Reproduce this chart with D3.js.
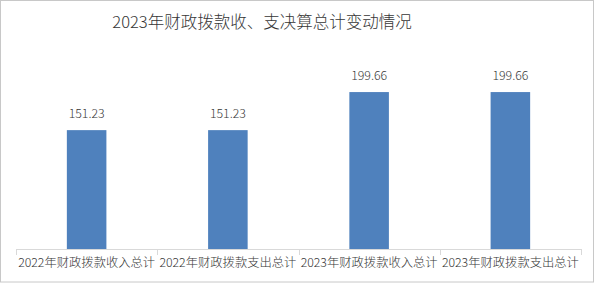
<!DOCTYPE html>
<html>
<head>
<meta charset="utf-8">
<script src="https://cdn.jsdelivr.net/npm/d3@7"></script>
<style>
  body { margin: 0; background: #fff; }
  text { font-family: "Noto Sans CJK SC", "Noto Sans", sans-serif; fill: #363636; font-weight: 300; }
</style>
</head>
<body>
<svg></svg>
<script>
var categories = ['2022年财政拨款收入总计', '2022年财政拨款支出总计', '2023年财政拨款收入总计', '2023年财政拨款支出总计'];
var values = [151.23, 151.23, 199.66, 199.66];
var title = '2023年财政拨款收、支决算总计变动情况';

var width = 597;
var height = 283;

var svg = d3.select('svg')
            .attr('width', width)
            .attr('height', height);

// outer frame
svg.append('rect')
    .attr('x', 0.5)
    .attr('y', 0.5)
    .attr('width', 593)
    .attr('height', 281.5)
    .attr('fill', '#fff')
    .attr('stroke', '#c8c8c8');

svg.append('text')
    .text(title)
    .attr('x', 262)
    .attr('y', 28)
    .attr('text-anchor', 'middle')
    .style('font-size', '16.5px');

var xScale = d3.scaleBand()
               .domain(categories)
               .range([16, 581])
               .padding(0);

var yScale = d3.scaleLinear()
               .domain([0, 250])
               .range([249, 52.5]);

var barWidth = xScale.bandwidth() * 0.28;

svg.selectAll('.bar')
    .data(values)
    .enter()
    .append('rect')
      .attr('class', 'bar')
      .attr('x', (d, i) => xScale(categories[i]) + (xScale.bandwidth() - barWidth) / 2)
      .attr('y', d => yScale(d))
      .attr('width', barWidth)
      .attr('height', d => yScale(0) - yScale(d))
      .attr('fill', '#4f81bd');

svg.selectAll('.label')
    .data(values)
    .enter()
    .append('text')
      .attr('class', 'label')
      .text(d => d.toFixed(2))
      .attr('x', (d, i) => xScale(categories[i]) + xScale.bandwidth() / 2)
      .attr('y', d => yScale(d) - 12)
      .attr('text-anchor', 'middle')
      .style('font-size', '12.3px');

// x axis with ticks between categories
var axis = svg.append('g');
axis.append('line')
    .attr('x1', 16)
    .attr('x2', 581)
    .attr('y1', 249.5)
    .attr('y2', 249.5)
    .attr('stroke', '#d9d9d9');

var tickPos = categories.map(c => xScale(c)).concat([xScale.range()[1]]);
axis.selectAll('.tick')
    .data(tickPos)
    .enter()
    .append('line')
      .attr('x1', d => Math.round(d) + 0.5)
      .attr('x2', d => Math.round(d) + 0.5)
      .attr('y1', 249)
      .attr('y2', 255)
      .attr('stroke', '#d9d9d9');

axis.selectAll('.cat')
    .data(categories)
    .enter()
    .append('text')
      .text(d => d)
      .attr('x', d => xScale(d) + xScale.bandwidth() / 2)
      .attr('y', 267)
      .attr('text-anchor', 'middle')
      .style('font-size', '12.3px');
</script>
</body>
</html>
